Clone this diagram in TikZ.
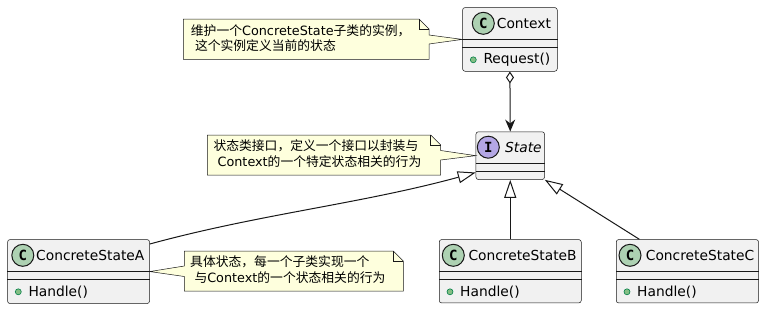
\documentclass[tikz,border=0pt]{standalone}
\usepackage{fontspec}
\setmainfont{DejaVu Sans}
\newfontfamily\cjk{Noto Sans CJK SC}
\newfontfamily\glyphfont{DejaVu Sans Mono}
\usetikzlibrary{arrows.meta,calc}
\definecolor{clsbg}{HTML}{F1F1F1}
\definecolor{clsline}{HTML}{181818}
\definecolor{cgreen}{HTML}{ADD1B2}
\definecolor{ipurple}{HTML}{B4A7E5}
\definecolor{notebg}{HTML}{FEFFDD}
\definecolor{pubfill}{HTML}{84BE84}
\definecolor{publine}{HTML}{038048}
\begin{document}
\begin{tikzpicture}[x=1pt,y=-1pt,
  clsbox/.style={draw=clsline, line width=0.5pt, fill=clsbg, rounded corners=2.5pt, inner sep=0pt, anchor=north west},
  sepline/.style={draw=clsline, line width=0.5pt},
  iconc/.style={circle, draw=clsline, line width=1pt, minimum size=22pt, inner sep=0pt, font=\glyphfont\bfseries\fontsize{14}{14}\selectfont},
  clsname/.style={anchor=west, inner sep=0pt, font=\fontsize{13.8}{16}\selectfont},
  pubdot/.style={circle, draw=publine, fill=pubfill, line width=0.6pt, minimum size=6pt, inner sep=0pt},
  method/.style={anchor=west, inner sep=0pt, font=\fontsize{13.8}{16}\selectfont},
  notebody/.style={draw=clsline, line width=0.5pt, fill=notebg, line join=miter},
  notefold/.style={draw=clsline, line width=0.5pt},
  notetext/.style={anchor=west, inner sep=0pt, text height=10pt, text depth=2.5pt, font=\fontsize{12.8}{15}\selectfont},
  edge/.style={draw=clsline, line width=1pt},
  inherit/.style={edge, -{Triangle[length=18pt,width=12pt,fill=white,line width=1pt]}},
]
\fill[white] (0,0) rectangle (764,309);
\useasboundingbox (0,0) rectangle (764,309);

% ---------- Context ----------
\node[clsbox, minimum width=94.7pt, minimum height=63.7pt] (ctx) at (462.3,7.3) {};
\draw[sepline] ([yshift=-32pt]ctx.north west) -- ([yshift=-32pt]ctx.north east);
\draw[sepline] ([yshift=-40pt]ctx.north west) -- ([yshift=-40pt]ctx.north east);
\node[iconc, fill=cgreen] (ctxicon) at ([xshift=21pt,yshift=-16pt]ctx.north west) {C};
\node[clsname] (ctxname) at ([xshift=34.4pt,yshift=-16pt]ctx.north west) {Context};
\node[pubdot] (ctxdot) at ([xshift=11pt,yshift=-52.5pt]ctx.north west) {};
\node[method] (ctxm) at ([xshift=21pt,yshift=-52.5pt]ctx.north west) {Request()};

% ---------- State ----------
\node[clsbox, minimum width=68.6pt, minimum height=47.8pt] (st) at (475.7,131.5) {};
\draw[sepline] ([yshift=-31.5pt]st.north west) -- ([yshift=-31.5pt]st.north east);
\draw[sepline] ([yshift=-39.3pt]st.north west) -- ([yshift=-39.3pt]st.north east);
\node[iconc, fill=ipurple] (sticon) at ([xshift=12.6pt,yshift=-15.7pt]st.north west) {I};
\node[clsname] (stname) at ([xshift=29.3pt,yshift=-15.7pt]st.north west) {\itshape State};

% ---------- ConcreteStateA ----------
\node[clsbox, minimum width=142pt, minimum height=64pt] (csa) at (7.3,239.3) {};
\draw[sepline] ([yshift=-32pt]csa.north west) -- ([yshift=-32pt]csa.north east);
\draw[sepline] ([yshift=-40pt]csa.north west) -- ([yshift=-40pt]csa.north east);
\node[iconc, fill=cgreen] (csaicon) at ([xshift=15.5pt,yshift=-16pt]csa.north west) {C};
\node[clsname] (csaname) at ([xshift=28.7pt,yshift=-16pt]csa.north west) {ConcreteStateA};
\node[pubdot] (csadot) at ([xshift=11pt,yshift=-52.5pt]csa.north west) {};
\node[method] (csam) at ([xshift=21pt,yshift=-52.5pt]csa.north west) {Handle()};

% ---------- ConcreteStateB ----------
\node[clsbox, minimum width=142pt, minimum height=63.4pt] (csb) at (439,239.3) {};
\draw[sepline] ([yshift=-32pt]csb.north west) -- ([yshift=-32pt]csb.north east);
\draw[sepline] ([yshift=-40pt]csb.north west) -- ([yshift=-40pt]csb.north east);
\node[iconc, fill=cgreen] (csbicon) at ([xshift=14.3pt,yshift=-16pt]csb.north west) {C};
\node[clsname] (csbname) at ([xshift=29.3pt,yshift=-16pt]csb.north west) {ConcreteStateB};
\node[pubdot] (csbdot) at ([xshift=11pt,yshift=-52.5pt]csb.north west) {};
\node[method] (csbm) at ([xshift=21pt,yshift=-52.5pt]csb.north west) {Handle()};

% ---------- ConcreteStateC ----------
\node[clsbox, minimum width=142.3pt, minimum height=63.4pt] (csc) at (616,239.3) {};
\draw[sepline] ([yshift=-32pt]csc.north west) -- ([yshift=-32pt]csc.north east);
\draw[sepline] ([yshift=-40pt]csc.north west) -- ([yshift=-40pt]csc.north east);
\node[iconc, fill=cgreen] (csCicon) at ([xshift=14pt,yshift=-16pt]csc.north west) {C};
\node[clsname] (cscname) at ([xshift=29.7pt,yshift=-16pt]csc.north west) {ConcreteStateC};
\node[pubdot] (cscdot) at ([xshift=11pt,yshift=-52.5pt]csc.north west) {};
\node[method] (cscm) at ([xshift=21pt,yshift=-52.5pt]csc.north west) {Handle()};

% ---------- Notes ----------
\draw[notebody] (183.3,19) -- (419,19) -- (429,29) -- (429,35) -- (ctx.west) -- (429,44) -- (429,59.3) -- (183.3,59.3) -- cycle;
\draw[notefold] (419,19) -- (419,29) -- (429,29);
\node[notetext] (n1a) at (190.7,31.5) {{\cjk 维护一个}ConcreteState{\cjk 子类的实例，}};
\node[notetext] (n1b) at (194.8,46.7) {{\cjk 这个实例定义当前的状态}};

\draw[notebody] (207.3,135) -- (430.7,135) -- (440.7,145) -- (440.7,150.5) -- (st.west) -- (440.7,160) -- (440.7,175) -- (207.3,175) -- cycle;
\draw[notefold] (430.7,135) -- (430.7,145) -- (440.7,145);
\node[notetext] (n2a) at (213.3,146.7) {{\cjk 状态类接口，定义一个接口以封装与}};
\node[notetext] (n2b) at (217.4,162.5) {Context{\cjk 的一个特定状态相关的行为}};

\draw[notebody] (184.3,251) -- (393.3,251) -- (403.3,261) -- (403.3,291) -- (184.3,291) -- (184.3,276.5) -- (csa.east) -- (184.3,266) -- cycle;
\draw[notefold] (393.3,251) -- (393.3,261) -- (403.3,261);
\node[notetext] (n3a) at (190,262.5) {{\cjk 具体状态，每一个子类实现一个}};
\node[notetext] (n3b) at (194.3,278.5) {{\cjk 与}Context{\cjk 的一个状态相关的行为}};

% ---------- Connectors ----------
\draw[edge, {Diamond[open,length=12pt,width=8pt,line width=1pt]}-{Stealth[length=12pt,width=10pt,inset=4pt]}] (ctx.south) -- (st.north);
\draw[inherit] (csb.north) -- (st.south);
\draw[inherit] ([xshift=-48pt]csc.north) -- (st.south east);
\draw[inherit] ([yshift=-4.7pt]csa.north east) .. controls (260,214) and (360,204) .. ([yshift=7.3pt]st.south west);
\end{tikzpicture}
\end{document}
